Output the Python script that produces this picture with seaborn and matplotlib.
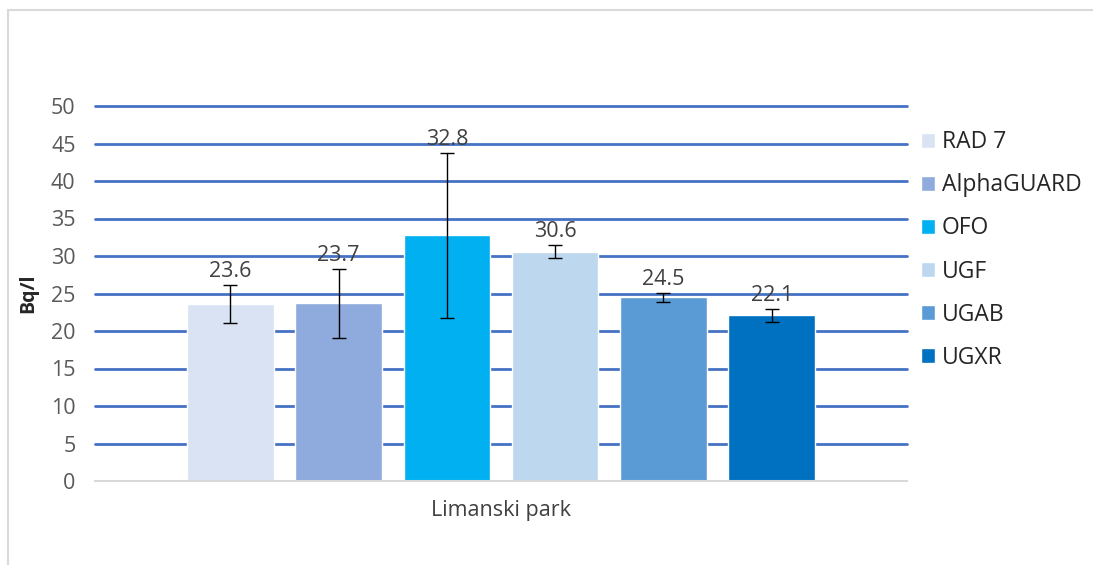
import matplotlib
matplotlib.use("Agg")
import matplotlib.pyplot as plt
from matplotlib.lines import Line2D
import seaborn as sns
import pandas as pd

# values
location = ["Limanski park"]
instruments = ["RAD 7", "AlphaGUARD", "OFO", "UGF", "UGAB", "UGXR"]
means = [23.6, 23.7, 32.8, 30.6, 24.5, 22.1]
errors = [2.5, 4.6, 11.0, 0.9, 0.6, 0.9]
colors = ["#DAE3F3", "#8FAADC", "#00B0F0", "#BDD7EE", "#5B9BD5", "#0070C0"]
yticks = [0, 5, 10, 15, 20, 25, 30, 35, 40, 45, 50]

df = pd.DataFrame({"site": location * len(instruments),
                   "instrument": instruments,
                   "value": means})

sns.set_style("white")
plt.rcParams['font.family'] = ['Open Sans', 'DejaVu Sans']

fig = plt.figure(figsize=(10.93, 5.65), dpi=100)
ax = fig.add_axes([95 / 1093, 1 - 481 / 565, 812 / 1093, 375 / 565])

sns.barplot(data=df, x="site", y="value", hue="instrument",
            palette=colors, width=0.8, gap=0.2, errorbar=None,
            saturation=1, ax=ax, zorder=2)

# error bars + labels from the bar patches
bars = [p for p in ax.patches if p.get_height() > 0][:len(means)]
for bar, m, e in zip(bars, means, errors):
    xc = bar.get_x() + bar.get_width() / 2
    ax.errorbar(xc, m, yerr=e, fmt="none", ecolor="black",
                elinewidth=1, capsize=5, capthick=1, zorder=3)
    ax.annotate(f"{m:.1f}", (xc, m + e), xytext=(0, 2),
                textcoords="offset points", ha="center", va="bottom",
                fontsize=15.5, color="#404040", zorder=4)

ax.set_ylim(0, 50)
ax.set_xlim(-0.5, 0.5)
ax.set_yticks(yticks)
ax.yaxis.grid(True, color="#4472C4", linewidth=2)
ax.set_axisbelow(True)
gls = ax.get_ygridlines()
gls[0].set_visible(False)
for gl in gls:
    gl.set_clip_on(False)

for s in ["top", "right", "left"]:
    ax.spines[s].set_visible(False)
ax.spines["bottom"].set_color("#D9D9D9")
ax.spines["bottom"].set_linewidth(1.5)

ax.tick_params(axis="y", length=0, pad=14, labelsize=15.5, labelcolor="#595959")
ax.tick_params(axis="x", length=0, pad=14, labelsize=15.5, labelcolor="#404040")
ax.set_xlabel("")
ax.set_ylabel("Bq/l", fontsize=14, fontweight="bold", color="#262626")
ax.yaxis.set_label_coords(-0.07, 0.5)

ax.legend(loc="center left", bbox_to_anchor=(921 / 1093, 1 - 250 / 565),
          bbox_transform=fig.transFigure, frameon=False, fontsize=16.5,
          labelspacing=0.83, handlelength=0.62, handleheight=0.62,
          handletextpad=0.3, borderpad=0, borderaxespad=0,
          labelcolor="#262626")

# light outer frame of the chart area
fig.add_artist(Line2D([8 / 1093, 8 / 1093], [0, 1 - 10 / 565],
                      transform=fig.transFigure, color="#D9D9D9", lw=1.5))
fig.add_artist(Line2D([8 / 1093, 1], [1 - 10 / 565, 1 - 10 / 565],
                      transform=fig.transFigure, color="#D9D9D9", lw=1.5))

fig.savefig("out.png", dpi=100)
